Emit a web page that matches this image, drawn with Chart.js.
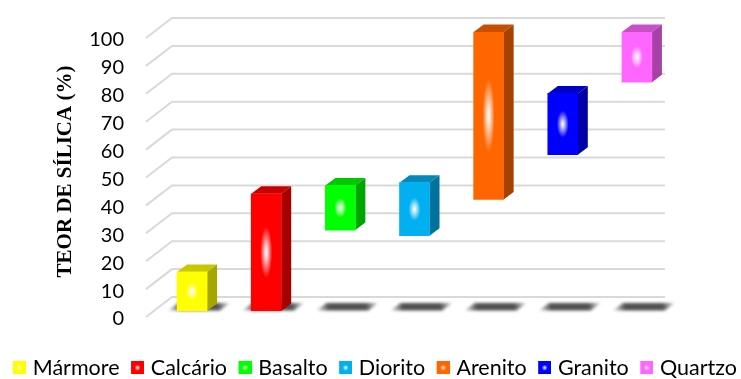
<!DOCTYPE html>
<html>
<head>
<meta charset="utf-8">
<title>Teor de sílica</title>
<style>
html, body { margin: 0; padding: 0; background: #fff; }
#wrap { width: 741px; height: 379px; }
</style>
<script src="https://cdn.jsdelivr.net/npm/chart.js@4/dist/chart.umd.min.js"></script>
</head>
<body>
<div id="wrap"><canvas id="silicaChart" width="741" height="379"></canvas></div>
<script>
var categories = ['Mármore', 'Calcário', 'Basalto', 'Diorito', 'Arenito', 'Granito', 'Quartzo'];
var lowValues = [0, 0, 29, 27, 40, 56, 82];
var highValues = [14, 42, 45, 46, 100, 78, 100];
var barColors = ['#ffff00', '#ff0000', '#00ff00', '#00b0f0', '#ff6600', '#0000ff', '#ff66ff'];
var yTicks = [0, 10, 20, 30, 40, 50, 60, 70, 80, 90, 100];

// depth of the boxes and of the floor/wall grid
var BAR_DX = 10, BAR_DY = -7.5;
var GRID_LEFT = 146, GRID_BACK = 172, GRID_RIGHT = 665;
var GRID_FRONT_OFF = 6, GRID_BACK_OFF = -14;

function shade(hex, k) {
    var n = parseInt(hex.slice(1), 16);
    var r = Math.round((n >> 16 & 255) * k);
    var g = Math.round((n >> 8 & 255) * k);
    var b = Math.round((n & 255) * k);
    return 'rgb(' + r + ',' + g + ',' + b + ')';
}

function glow(ctx, cx, cy, rx, ry) {
    ctx.save();
    ctx.translate(cx, cy);
    ctx.scale(rx, ry);
    var g = ctx.createRadialGradient(0, 0, 0, 0, 0, 1);
    g.addColorStop(0, 'rgba(255,255,255,1)');
    g.addColorStop(0.2, 'rgba(255,255,255,0.85)');
    g.addColorStop(1, 'rgba(255,255,255,0)');
    ctx.fillStyle = g;
    ctx.beginPath();
    ctx.arc(0, 0, 1, 0, Math.PI * 2);
    ctx.fill();
    ctx.restore();
}

// small swatch with a bright centre for the legend; the blank strip on its
// left keeps the gap to the text tighter than the library's default
function swatch(color) {
    var c = document.createElement('canvas');
    c.width = 17;
    c.height = 13;
    var x = c.getContext('2d');
    x.fillStyle = color;
    x.fillRect(4, 0, 13, 13);
    glow(x, 10.5, 6.5, 3, 3);
    return c;
}

var box3d = {
    id: 'box3d',
    beforeDatasetsDraw: function(chart) {
        var ctx = chart.ctx, y = chart.scales.y, bars = chart.getDatasetMeta(0).data;

        // wall lines with their short diagonal along the side wall
        ctx.save();
        ctx.strokeStyle = '#d9d9d9';
        ctx.lineWidth = 2;
        yTicks.forEach(function(t) {
            var py = y.getPixelForValue(t);
            ctx.beginPath();
            ctx.moveTo(GRID_LEFT, py + GRID_FRONT_OFF);
            ctx.lineTo(GRID_BACK, py + GRID_BACK_OFF);
            ctx.lineTo(GRID_RIGHT, py + GRID_BACK_OFF);
            ctx.stroke();
        });
        ctx.restore();

        // floor shadows, fading out towards both ends
        var y0 = y.getPixelForValue(0);
        ctx.save();
        ctx.filter = 'blur(1.5px)';
        bars.forEach(function(bar) {
            var g = ctx.createLinearGradient(bar.x - 26, 0, bar.x + 40, 0);
            g.addColorStop(0, 'rgba(80,80,80,0)');
            g.addColorStop(0.22, 'rgba(80,80,80,1)');
            g.addColorStop(0.78, 'rgba(80,80,80,1)');
            g.addColorStop(1, 'rgba(80,80,80,0)');
            ctx.fillStyle = g;
            ctx.beginPath();
            ctx.moveTo(bar.x - 24, y0 - 0.5);
            ctx.lineTo(bar.x + 28, y0 - 0.5);
            ctx.lineTo(bar.x + 38, y0 - 8);
            ctx.lineTo(bar.x - 14, y0 - 8);
            ctx.closePath();
            ctx.fill();
        });
        ctx.restore();

        // top and right faces
        bars.forEach(function(bar, i) {
            var hw = bar.width / 2, top = bar.y, bot = bar.base;
            var l = bar.x - hw, r = bar.x + hw;
            ctx.fillStyle = shade(barColors[i], 0.78);
            ctx.beginPath();
            ctx.moveTo(l, top);
            ctx.lineTo(l + BAR_DX, top + BAR_DY);
            ctx.lineTo(r + BAR_DX, top + BAR_DY);
            ctx.lineTo(r, top);
            ctx.closePath();
            ctx.fill();
            ctx.fillStyle = shade(barColors[i], 0.65);
            ctx.beginPath();
            ctx.moveTo(r, top);
            ctx.lineTo(r + BAR_DX, top + BAR_DY);
            ctx.lineTo(r + BAR_DX, bot + BAR_DY);
            ctx.lineTo(r, bot);
            ctx.closePath();
            ctx.fill();
        });
    },
    afterDatasetsDraw: function(chart) {
        var ctx = chart.ctx;
        chart.getDatasetMeta(0).data.forEach(function(bar) {
            var h = bar.base - bar.y;
            glow(ctx, bar.x, bar.y + h / 2, 6, h * 0.22);
        });
    }
};

var ctx = document.getElementById('silicaChart').getContext('2d');
var silicaChart = new Chart(ctx, {
    type: 'bar',
    plugins: [box3d, {
        id: 'legendRow',
        beforeInit: function(chart) {
            // one row across the full canvas, whatever the plot's side padding is
            var fit = chart.legend.fit;
            chart.legend.fit = function() {
                this.maxWidth = 800;
                fit.call(this);
                this.height = 33.5;
            };
        },
        beforeDraw: function(chart) {
            chart.legend.right = 800;
        }
    }],
    data: {
        labels: categories,
        datasets: [{
            data: lowValues.map(function(v, i) { return [v, highValues[i]]; }),
            backgroundColor: barColors,
            borderSkipped: false,
            barThickness: 30
        }]
    },
    options: {
        responsive: false,
        animation: false,
        layout: { padding: { top: 32, right: 67, left: 1.5, bottom: 0 } },
        plugins: {
            tooltip: { enabled: false },
            legend: {
                position: 'bottom',
                align: 'start',
                labels: {
                    color: '#000',
                    font: { family: 'Lato', size: 21.5 },
                    usePointStyle: true,
                    boxWidth: 9,
                    padding: 11.5,
                    generateLabels: function() {
                        return categories.map(function(name, i) {
                            return { text: name, pointStyle: swatch(barColors[i]), lineWidth: 0, strokeStyle: 'transparent', fillStyle: barColors[i], index: i };
                        });
                    }
                }
            }
        },
        scales: {
            x: {
                grid: { display: false },
                border: { display: false },
                ticks: { display: false },
                afterFit: function(s) { s.height = 34.5; }
            },
            y: {
                min: 0,
                max: 100,
                afterBuildTicks: function(s) { s.ticks = yTicks.map(function(v) { return { value: v }; }); },
                afterFit: function(s) { s.width = 153.5; s.paddingTop = 0; s.paddingBottom = 0; },
                grid: { display: false },
                border: { display: false },
                ticks: {
                    color: '#000',
                    font: { family: 'Lato', size: 20 },
                    padding: 23,
                    autoSkip: false,
                    labelOffset: 8
                },
                title: {
                    display: true,
                    text: 'TEOR DE SÍLICA (%)',
                    color: '#000',
                    font: { family: 'Liberation Serif', size: 21, weight: 'bold' },
                    padding: { top: 51, bottom: 0 }
                }
            }
        }
    }
});
</script>
</body>
</html>
